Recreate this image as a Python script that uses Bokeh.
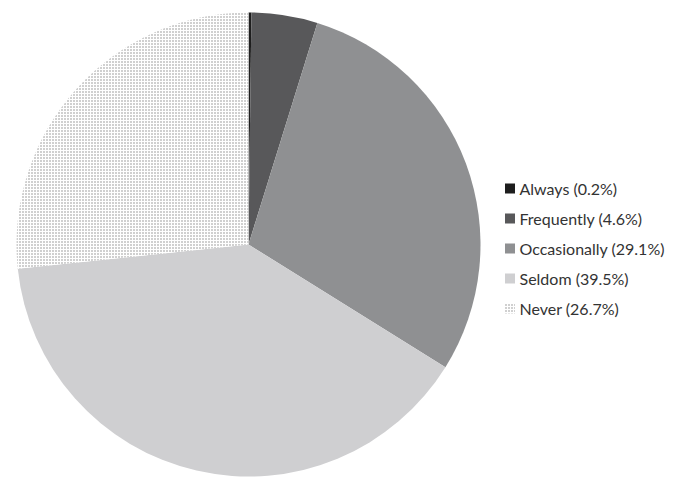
import math
from bokeh.plotting import figure
from bokeh.models import ColumnDataSource, Range1d
from bokeh.core.properties import value
from bokeh.embed import file_html
from bokeh.resources import INLINE

# data
categories = ["Always", "Frequently", "Occasionally", "Seldom", "Never"]
percents = [0.2, 4.6, 29.1, 39.5, 26.7]
colors = ["#1e1e1e", "#58585a", "#8f9092", "#cfcfd1", "#ffffff"]
hatches = [" ", " ", " ", " ", "dot"]

W, H = 677, 477
p = figure(width=W, height=H, output_backend="svg", toolbar_location=None,
           x_range=Range1d(0, W), y_range=Range1d(0, H), min_border=0)
p.axis.visible = False
p.grid.visible = False
p.outline_line_color = None
p.background_fill_color = "white"

cx, cy, r = 248, H - 244, 232
total = sum(percents)
starts, ends = [], []
cum = 0.0
for v in percents:
    starts.append(math.pi / 2 - 2 * math.pi * cum / total)
    cum += v
    ends.append(math.pi / 2 - 2 * math.pi * cum / total)

src = ColumnDataSource(dict(start=starts, end=ends, color=colors, hatch=hatches,
                            label=[f"{c} ({v}%)" for c, v in zip(categories, percents)]))
p.wedge(x=cx, y=cy, radius=r, start_angle="start", end_angle="end", direction="clock",
        fill_color="color", line_color=None, hatch_pattern="hatch",
        hatch_color="#8a8a8a", hatch_scale=3, hatch_weight=1.2, source=src)

# legend
lx, ly0, dy = 509.5, H - 188, 30
ys = [ly0 - i * dy for i in range(len(categories))]
lsrc = ColumnDataSource(dict(x=[lx] * len(categories), y=ys, color=colors, hatch=hatches,
                             tx=[lx + 9.5] * len(categories), label=src.data["label"]))
p.rect(x="x", y="y", width=10, height=10, fill_color="color", line_color=None,
       hatch_pattern="hatch", hatch_color="#8a8a8a", hatch_scale=3, hatch_weight=1.2,
       source=lsrc)
p.text(x="tx", y="y", text="label", text_font=value("Lato"), text_font_size="16px",
       text_color="#333333", text_baseline="middle", source=lsrc)

open("out.html", "w").write(file_html(p, INLINE))
